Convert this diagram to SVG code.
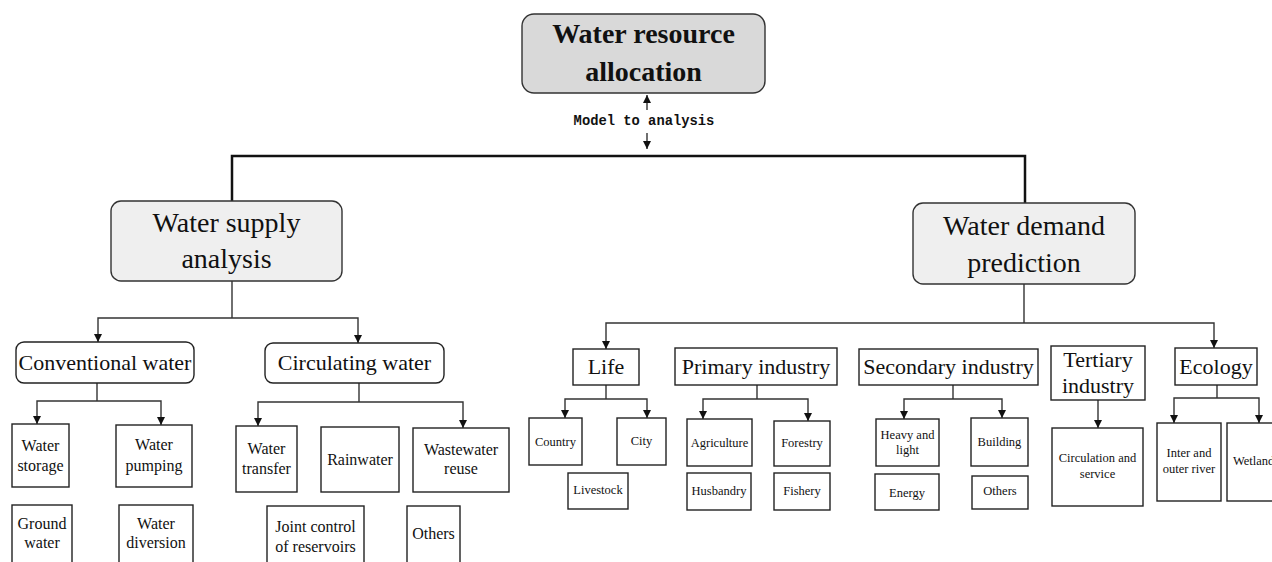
<svg xmlns="http://www.w3.org/2000/svg" width="1272" height="562" viewBox="0 0 1272 562">
<style>
text{font-family:"Liberation Serif","Times New Roman",serif;fill:#111;text-anchor:middle}
.box{fill:#fff;stroke:#222;stroke-width:1.4}
.g1{fill:#d9d9d9;stroke:#333;stroke-width:1.4}
.g2{fill:#efefef;stroke:#333;stroke-width:1.4}
.t28b{font-size:28px;font-weight:bold}
.t28{font-size:28px}
.t22{font-size:22px}
.t16{font-size:16px}
.t12{font-size:12.5px}
.mono{font-family:"Liberation Mono","Courier New",monospace;font-size:13.8px;font-weight:bold}
.c{fill:none;stroke:#333;stroke-width:1.4}
.ca{fill:none;stroke:#333;stroke-width:1.4;marker-end:url(#ah)}
.thick{fill:none;stroke:#111;stroke-width:2.5}
</style>
<defs>
<marker id="ah" viewBox="0 0 10 10" refX="10" refY="5" markerWidth="9" markerHeight="8" markerUnits="userSpaceOnUse" orient="auto">
<path d="M0,0 L10,5 L0,10 z" fill="#111"/>
</marker>
</defs>
<g id="connectors">
<path class="ca" d="M647,110 V95"/>
<path class="ca" d="M647,133 V149"/>
<path class="thick" d="M232,201 V156 H1025 V203"/>
<path class="c" d="M232,281 V318"/>
<path class="ca" d="M232,318 H98 V342"/>
<path class="ca" d="M232,318 H358 V343"/>
<path class="c" d="M97,383 V401"/>
<path class="ca" d="M97,401 H37 V424"/>
<path class="ca" d="M97,401 H161 V425"/>
<path class="c" d="M359,383 V402"/>
<path class="ca" d="M359,402 H258 V426"/>
<path class="ca" d="M359,402 H463 V428"/>
<path class="c" d="M1024,284 V323"/>
<path class="ca" d="M1024,323 H606 V349"/>
<path class="ca" d="M1024,323 H1214 V348"/>
<path class="c" d="M606,385 V399"/>
<path class="ca" d="M606,399 H565 V418"/>
<path class="ca" d="M606,399 H647 V418"/>
<path class="c" d="M757,385 V399"/>
<path class="ca" d="M757,399 H703 V419"/>
<path class="ca" d="M757,399 H808 V421"/>
<path class="c" d="M953,385 V399"/>
<path class="ca" d="M953,399 H904 V419"/>
<path class="ca" d="M953,399 H1002 V418"/>
<path class="ca" d="M1098,400 V428"/>
<path class="c" d="M1217,385 V398"/>
<path class="ca" d="M1217,398 H1174 V423"/>
<path class="ca" d="M1217,398 H1259 V423"/>
</g>
<text class="mono" x="644" y="125">Model to analysis</text>
<g id="n-top"><rect class="g1" x="522" y="14" width="243" height="79" rx="12"/><text class="t28b" x="643.5" y="43">Water resource</text><text class="t28b" x="643.5" y="81">allocation</text></g>
<g id="n-supply"><rect class="g2" x="111" y="201" width="231" height="80" rx="10"/><text class="t28" x="226.5" y="232">Water supply</text><text class="t28" x="226.5" y="268">analysis</text></g>
<g id="n-demand"><rect class="g2" x="913" y="203" width="222" height="81" rx="10"/><text class="t28" x="1024" y="235">Water demand</text><text class="t28" x="1024" y="272">prediction</text></g>
<g id="n-conv"><rect class="box" x="16" y="342" width="178" height="41" rx="8"/><text class="t22" x="105" y="370">Conventional water</text></g>
<g id="n-circ"><rect class="box" x="265" y="343" width="179" height="40" rx="8"/><text class="t22" x="354.5" y="370">Circulating water</text></g>
<g id="n-storage"><rect class="box" x="12" y="424" width="57" height="63"/><text class="t16" x="40.5" y="451">Water</text><text class="t16" x="40.5" y="471">storage</text></g>
<g id="n-pumping"><rect class="box" x="116" y="425" width="76" height="62"/><text class="t16" x="154" y="450">Water</text><text class="t16" x="154" y="471">pumping</text></g>
<g id="n-ground"><rect class="box" x="12" y="505" width="60" height="70"/><text class="t16" x="42" y="529">Ground</text><text class="t16" x="42" y="548">water</text></g>
<g id="n-diversion"><rect class="box" x="119" y="505" width="74" height="70"/><text class="t16" x="156" y="529">Water</text><text class="t16" x="156" y="548">diversion</text></g>
<g id="n-transfer"><rect class="box" x="236" y="426" width="61" height="66"/><text class="t16" x="266.5" y="454">Water</text><text class="t16" x="266.5" y="474">transfer</text></g>
<g id="n-rain"><rect class="box" x="321" y="427" width="78" height="65"/><text class="t16" x="360" y="465">Rainwater</text></g>
<g id="n-waste"><rect class="box" x="413" y="428" width="96" height="64"/><text class="t16" x="461" y="455">Wastewater</text><text class="t16" x="461" y="474">reuse</text></g>
<g id="n-joint"><rect class="box" x="267" y="506" width="97" height="70"/><text class="t16" x="315.5" y="532">Joint control</text><text class="t16" x="315.5" y="552">of reservoirs</text></g>
<g id="n-others1"><rect class="box" x="407" y="506" width="53" height="70"/><text class="t16" x="433.5" y="539">Others</text></g>
<g id="n-life"><rect class="box" x="573" y="349" width="66" height="36"/><text class="t22" x="606" y="374">Life</text></g>
<g id="n-primary"><rect class="box" x="675" y="348" width="162" height="37"/><text class="t22" x="756" y="374">Primary industry</text></g>
<g id="n-secondary"><rect class="box" x="859" y="349" width="179" height="36"/><text class="t22" x="948.5" y="374">Secondary industry</text></g>
<g id="n-tertiary"><rect class="box" x="1051" y="346" width="94" height="54"/><text class="t22" x="1098" y="367">Tertiary</text><text class="t22" x="1098" y="393">industry</text></g>
<g id="n-ecology"><rect class="box" x="1175" y="348" width="82" height="37"/><text class="t22" x="1216" y="374">Ecology</text></g>
<g id="n-country"><rect class="box" x="529" y="418" width="53" height="47"/><text class="t12" x="555.5" y="446">Country</text></g>
<g id="n-city"><rect class="box" x="617" y="418" width="49" height="47"/><text class="t12" x="641.5" y="445">City</text></g>
<g id="n-livestock"><rect class="box" x="568" y="473" width="60" height="36"/><text class="t12" x="598" y="494">Livestock</text></g>
<g id="n-agri"><rect class="box" x="687" y="419" width="65" height="47"/><text class="t12" x="719.5" y="447">Agriculture</text></g>
<g id="n-forestry"><rect class="box" x="774" y="421" width="56" height="45"/><text class="t12" x="802" y="447">Forestry</text></g>
<g id="n-husbandry"><rect class="box" x="687" y="473" width="64" height="37"/><text class="t12" x="719" y="495">Husbandry</text></g>
<g id="n-fishery"><rect class="box" x="774" y="473" width="56" height="37"/><text class="t12" x="802" y="495">Fishery</text></g>
<g id="n-heavy"><rect class="box" x="876" y="419" width="63" height="47"/><text class="t12" x="907.5" y="439">Heavy and</text><text class="t12" x="907.5" y="454">light</text></g>
<g id="n-building"><rect class="box" x="971" y="418" width="57" height="48"/><text class="t12" x="999.5" y="446">Building</text></g>
<g id="n-energy"><rect class="box" x="875" y="474" width="64" height="36"/><text class="t12" x="907" y="497">Energy</text></g>
<g id="n-others2"><rect class="box" x="972" y="476" width="56" height="33"/><text class="t12" x="1000" y="495">Others</text></g>
<g id="n-circservice"><rect class="box" x="1052" y="428" width="91" height="78"/><text class="t12" x="1097.5" y="462">Circulation and</text><text class="t12" x="1097.5" y="478">service</text></g>
<g id="n-river"><rect class="box" x="1157" y="423" width="64" height="78"/><text class="t12" x="1189" y="457">Inter and</text><text class="t12" x="1189" y="473">outer river</text></g>
<g id="n-wetland"><rect class="box" x="1227" y="423" width="60" height="78"/><text class="t12" x="1233" y="465" style="text-anchor:start">Wetland</text></g>
</svg>
